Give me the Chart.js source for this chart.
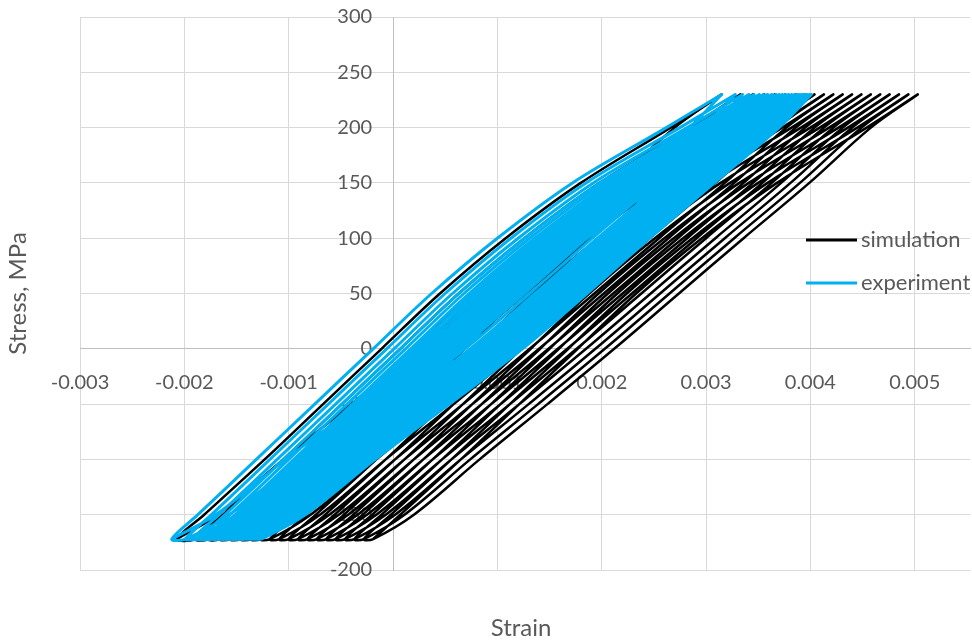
<!DOCTYPE html>
<html>
<head>
<meta charset="utf-8">
<script src="https://cdn.jsdelivr.net/npm/chart.js@4.4.1/dist/chart.umd.min.js"></script>
<style>
  body { margin: 0; background: #fff; }
  canvas { display: block; }
</style>
</head>
<body>
<canvas id="chart" width="972" height="643"></canvas>
<script>
var stressLevels = [-172, -150, -100, -50, 0, 50, 100, 150, 200, 230];

// simulation, first cycle: strain of the rising and the falling branch
var simLoading   = [-0.00207, -0.00168, -0.00105, -0.00040, 0.00024, 0.00086, 0.00148, 0.00211, 0.00270, 0.00315];
var simUnloading = [-0.00207, -0.00181, -0.00123, -0.00067, -0.00011, 0.00045, 0.00108, 0.00180, 0.00266, 0.00315];
// ratcheting: strain shift of every simulated cycle
var simShift = [0, 0.00018, 0.00030, 0.00041, 0.00051, 0.00061, 0.00071, 0.00080, 0.00089, 0.00098,
                0.00107, 0.00116, 0.00125, 0.00134, 0.00143, 0.00152, 0.00161, 0.00170, 0.00179, 0.00188];

// experiment, first cycle
var expLoading   = [-0.00212, -0.00170, -0.00103, -0.00032, 0.00038, 0.00100, 0.00160, 0.00222, 0.00284, 0.00315];
var expUnloading = [-0.00212, -0.00187, -0.00131, -0.00075, -0.00019, 0.00037, 0.00100, 0.00172, 0.00262, 0.00315];
var expShift = [0, 0.00013, 0.00020, 0.00026, 0.00031, 0.00036, 0.00040, 0.00044, 0.00048, 0.00052,
                0.00055, 0.00058, 0.00061, 0.00064, 0.00067, 0.00070, 0.00072, 0.00074, 0.00076, 0.00078,
                0.00080, 0.00082, 0.00084, 0.00086];

var xTicks = [-0.003, -0.002, -0.001, 0, 0.001, 0.002, 0.003, 0.004, 0.005];
var yTicks = [-200, -150, -100, -50, 0, 50, 100, 150, 200, 250, 300];

var seriesNames = ['simulation', 'experiment'];
var seriesColors = ['#000000', '#00b0f0'];

function buildLoops(loading, unloading, shifts)
{
    var pts = [];
    for (var c = 0; c < shifts.length; c++) {
        var s = shifts[c];
        for (var j = 0; j < stressLevels.length; j++) {
            pts.push({ x: loading[j] + s, y: stressLevels[j] });
        }
        for (var k = stressLevels.length - 1; k >= 0; k--) {
            pts.push({ x: unloading[k] + s, y: stressLevels[k] });
        }
    }
    return pts;
}

var labelFont = { family: 'Lato', size: 20 };
var textColor = '#595959';

// axis titles and the legend, placed like the original sheet
var decorations = {
    id: 'decorations',
    afterDraw: function(chart) {
        var ctx = chart.ctx;
        var area = chart.chartArea;
        ctx.save();
        ctx.fillStyle = textColor;
        ctx.font = '24px Lato';
        ctx.textAlign = 'center';
        ctx.textBaseline = 'middle';
        ctx.fillText('Strain', (area.left + area.right) / 2 - 4, 628);
        ctx.translate(18, (area.top + area.bottom) / 2);
        ctx.rotate(-Math.PI / 2);
        ctx.fillText('Stress, MPa', 0, 0);
        ctx.restore();

        ctx.save();
        ctx.font = '22px Lato';
        ctx.textAlign = 'left';
        ctx.textBaseline = 'middle';
        var ds = chart.data.datasets;
        for (var i = 0; i < ds.length; i++) {
            var y = 240 + i * 43;
            ctx.strokeStyle = ds[i].borderColor;
            ctx.lineWidth = 3;
            ctx.beginPath();
            ctx.moveTo(806, y);
            ctx.lineTo(857, y);
            ctx.stroke();
            ctx.fillStyle = textColor;
            ctx.fillText(ds[i].label, 861, y);
        }
        ctx.restore();
    }
};

var ctx = document.getElementById('chart').getContext('2d');
var chart = new Chart(ctx, {
    type: 'scatter',
    data: {
        datasets: [
            {
                label: seriesNames[0],
                data: buildLoops(simLoading, simUnloading, simShift),
                showLine: true,
                borderColor: seriesColors[0],
                backgroundColor: seriesColors[0],
                borderWidth: 2.5,
                pointRadius: 0,
                borderJoinStyle: 'round',
                tension: 0.35,
                order: 2
            },
            {
                label: seriesNames[1],
                data: buildLoops(expLoading, expUnloading, expShift),
                showLine: true,
                borderColor: seriesColors[1],
                backgroundColor: seriesColors[1],
                borderWidth: 3,
                pointRadius: 0,
                borderJoinStyle: 'round',
                tension: 0.35,
                order: 1
            }
        ]
    },
    options: {
        responsive: false,
        animation: false,
        layout: { padding: { left: 80, top: 17, right: 2, bottom: 73 } },
        plugins: { legend: { display: false }, tooltip: { enabled: false } },
        scales: {
            x: {
                type: 'linear',
                min: -0.003,
                max: 0.00553,
                position: { y: 0 },
                afterBuildTicks: function(axis) {
                    axis.ticks = xTicks.map(function(v) { return { value: v }; });
                },
                afterFit: function(axis) { axis.height = 0; },
                grid: { color: '#d9d9d9', drawTicks: false },
                border: { color: '#bfbfbf' },
                ticks: {
                    autoSkip: false,
                    maxRotation: 0,
                    padding: 22,
                    color: textColor,
                    font: labelFont,
                    callback: function(v) { return String(+v.toFixed(3)); }
                }
            },
            y: {
                type: 'linear',
                min: -200,
                max: 300,
                position: { x: 0 },
                afterBuildTicks: function(axis) {
                    axis.ticks = yTicks.map(function(v) { return { value: v }; });
                },
                afterFit: function(axis) { axis.width = 0; },
                grid: { color: '#d9d9d9', drawTicks: false },
                border: { color: '#bfbfbf' },
                ticks: { display: false }
            },
            // labels of the stress axis, set a little left of the zero line
            yLabels: {
                type: 'linear',
                axis: 'y',
                min: -200,
                max: 300,
                position: { x: -0.0002 },
                afterBuildTicks: function(axis) {
                    axis.ticks = yTicks.map(function(v) { return { value: v }; });
                },
                afterFit: function(axis) { axis.width = 0; },
                grid: { display: false, drawTicks: false },
                border: { display: false },
                ticks: {
                    padding: 0,
                    color: textColor,
                    font: labelFont
                }
            }
        }
    },
    plugins: [decorations]
});
</script>
</body>
</html>
